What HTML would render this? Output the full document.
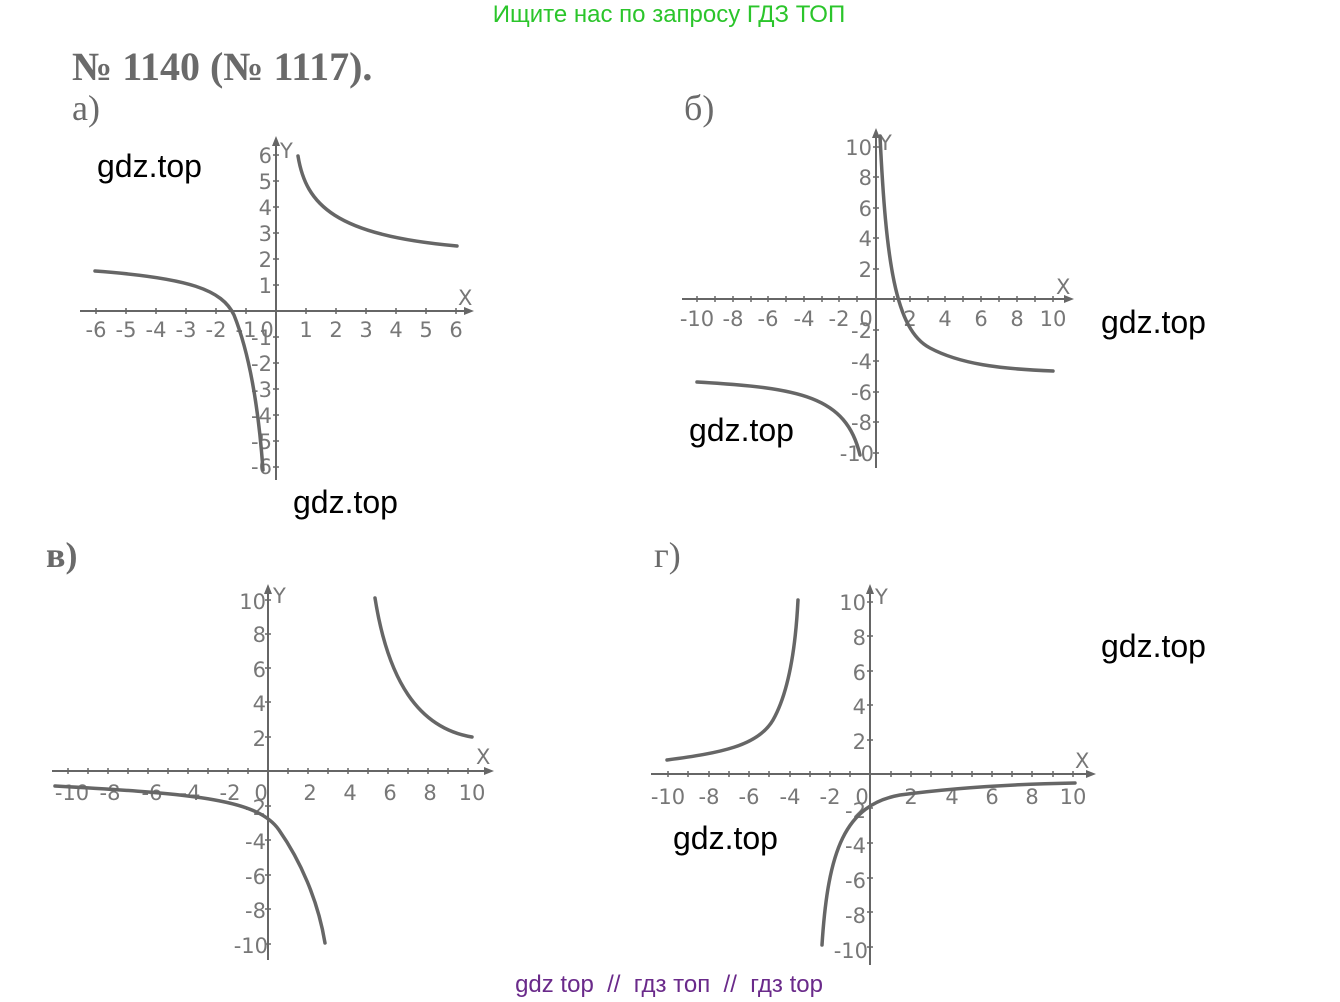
<!DOCTYPE html>
<html><head><meta charset="utf-8"><style>
html,body{margin:0;padding:0;background:#fff;}
svg{display:block;}
.ax{stroke:#666;stroke-width:2;fill:none;}
.tk{stroke:#666;stroke-width:1.5;}
.cv{stroke:#666;stroke-width:3.5;fill:none;stroke-linecap:round;}
.t{font-family:"DejaVu Sans","Liberation Sans",sans-serif;font-size:21px;fill:#777;}
.wm{font-family:"Liberation Sans",sans-serif;font-size:32px;fill:#000;}
.hd{font-family:"Liberation Serif",serif;fill:#6a6a6a;}
.ar{fill:#666;}
</style></head><body>
<svg width="1340" height="1002" viewBox="0 0 1340 1002" xmlns="http://www.w3.org/2000/svg">
<rect width="1340" height="1002" fill="#fff"/>
<text x="669" y="22" text-anchor="middle" font-family="Liberation Sans, Noto Sans CJK SC, sans-serif" font-size="24" fill="#2bc52b">Ищите нас по запросу ГДЗ ТОП</text>
<text x="72" y="80" class="hd" font-size="40" font-weight="bold">№ 1140 (№ 1117).</text>
<text x="72" y="120" class="hd" font-size="36">а)</text>
<text x="684" y="120" class="hd" font-size="36">б)</text>
<text x="46" y="567" class="hd" font-size="36" font-weight="bold">в)</text>
<text x="654" y="567" class="hd" font-size="36">г)</text>

<!-- Graph a -->
<g>
<line class="ax" x1="80" y1="311" x2="468" y2="311"/>
<line class="ax" x1="276" y1="480" x2="276" y2="142"/>
<polygon class="ar" points="474,311 464,307 464,315"/>
<polygon class="ar" points="276,136 272,146 280,146"/>
<g class="tk">
<path d="M96 308v6M126 308v6M156 308v6M186 308v6M216 308v6M246 308v6M306 308v6M336 308v6M366 308v6M396 308v6M426 308v6M456 308v6"/>
<path d="M273 155h6M273 181h6M273 207h6M273 233h6M273 259h6M273 285h6M273 337h6M273 363h6M273 389h6M273 415h6M273 441h6M273 467h6"/>
</g>
<text x="458" y="305" class="t" font-size="17">X</text>
<text x="280" y="158" class="t" font-size="14">Y</text>
<g class="t" text-anchor="middle">
<text x="96" y="337">-6</text><text x="126" y="337">-5</text><text x="156" y="337">-4</text><text x="186" y="337">-3</text><text x="216" y="337">-2</text><text x="246" y="337">-1</text><text x="267" y="337">0</text>
<text x="306" y="337">1</text><text x="336" y="337">2</text><text x="366" y="337">3</text><text x="396" y="337">4</text><text x="426" y="337">5</text><text x="456" y="337">6</text>
</g>
<g class="t" text-anchor="end">
<text x="272" y="163">6</text><text x="272" y="189">5</text><text x="272" y="215">4</text><text x="272" y="241">3</text><text x="272" y="267">2</text><text x="272" y="293">1</text>
<text x="272" y="345">-1</text><text x="272" y="371">-2</text><text x="272" y="397">-3</text><text x="272" y="423">-4</text><text x="272" y="449">-5</text><text x="272" y="474">-6</text>
</g>
<path class="cv" d="M298 156 C306 205 335 235 457 246"/>
<path class="cv" d="M95 271 C190 278 222 290 234 315 C248 350 258 400 263 470"/>
</g>

<!-- Graph b -->
<g>
<line class="ax" x1="682" y1="299" x2="1068" y2="299"/>
<line class="ax" x1="876" y1="468" x2="876" y2="132"/>
<polygon class="ar" points="1074,299 1064,295 1064,303"/>
<polygon class="ar" points="876,128 872,138 880,138"/>
<g class="tk">
<path d="M697 296v6M715 296v6M733 296v6M751 296v6M768 296v6M786 296v6M804 296v6M822 296v6M839 296v6M857 296v6M894 296v6M910 296v6M928 296v6M945 296v6M963 296v6M981 296v6M999 296v6M1017 296v6M1035 296v6M1053 296v6"/>
<path d="M873 147h6M873 177h6M873 208h6M873 238h6M873 269h6M873 330h6M873 361h6M873 392h6M873 422h6M873 453h6"/>
</g>
<text x="1056" y="294" class="t" font-size="17">X</text>
<text x="879" y="150" class="t" font-size="14">Y</text>
<g class="t" text-anchor="middle">
<text x="697" y="326">-10</text><text x="733" y="326">-8</text><text x="768" y="326">-6</text><text x="804" y="326">-4</text><text x="839" y="326">-2</text><text x="866" y="326">0</text>
<text x="910" y="326">2</text><text x="945" y="326">4</text><text x="981" y="326">6</text><text x="1017" y="326">8</text><text x="1053" y="326">10</text>
</g>
<g class="t" text-anchor="end">
<text x="872" y="155">10</text><text x="872" y="185">8</text><text x="872" y="216">6</text><text x="872" y="246">4</text><text x="872" y="277">2</text>
<text x="872" y="338">-2</text><text x="872" y="369">-4</text><text x="872" y="400">-6</text><text x="872" y="430">-8</text><text x="874" y="461">-10</text>
</g>
<path class="cv" d="M880 136 C886 260 895 330 930 348 C960 364 1000 369 1053 371"/>
<path class="cv" d="M697 382 C800 388 846 396 860 455"/>
</g>

<!-- Graph v -->
<g>
<line class="ax" x1="52" y1="771" x2="488" y2="771"/>
<line class="ax" x1="268" y1="960" x2="268" y2="588"/>
<polygon class="ar" points="494,771 484,767 484,775"/>
<polygon class="ar" points="268,584 264,594 272,594"/>
<g class="tk">
<path d="M68 768v6M88 768v6M108 768v6M128 768v6M148 768v6M168 768v6M188 768v6M208 768v6M228 768v6M248 768v6M288 768v6M308 768v6M328 768v6M348 768v6M368 768v6M388 768v6M408 768v6M428 768v6M448 768v6M468 768v6"/>
<path d="M265 600h6M265 634h6M265 668h6M265 702h6M265 737h6M265 806h6M265 840h6M265 875h6M265 909h6M265 944h6"/>
</g>
<text x="476" y="764" class="t" font-size="17">X</text>
<text x="273" y="603" class="t" font-size="14">Y</text>
<g class="t" text-anchor="middle">
<text x="72" y="800">-10</text><text x="110" y="800">-8</text><text x="152" y="800">-6</text><text x="190" y="800">-4</text><text x="230" y="800">-2</text><text x="261" y="800">0</text>
<text x="310" y="800">2</text><text x="350" y="800">4</text><text x="390" y="800">6</text><text x="430" y="800">8</text><text x="472" y="800">10</text>
</g>
<g class="t" text-anchor="end">
<text x="266" y="609">10</text><text x="266" y="642">8</text><text x="266" y="677">6</text><text x="266" y="711">4</text><text x="266" y="746">2</text>
<text x="266" y="815">-2</text><text x="266" y="849">-4</text><text x="266" y="884">-6</text><text x="266" y="918">-8</text><text x="268" y="953">-10</text>
</g>
<path class="cv" d="M375 598 C388 680 418 728 472 737"/>
<path class="cv" d="M55 786 C200 794 258 800 279 830 C300 860 318 900 325 943"/>
</g>

<!-- Graph g -->
<g>
<line class="ax" x1="651" y1="774" x2="1090" y2="774"/>
<line class="ax" x1="870" y1="965" x2="870" y2="588"/>
<polygon class="ar" points="1096,774 1086,770 1086,778"/>
<polygon class="ar" points="870,584 866,594 874,594"/>
<g class="tk">
<path d="M668 771v6M688 771v6M709 771v6M729 771v6M749 771v6M769 771v6M790 771v6M810 771v6M830 771v6M850 771v6M891 771v6M911 771v6M931 771v6M952 771v6M972 771v6M992 771v6M1012 771v6M1032 771v6M1053 771v6M1073 771v6"/>
<path d="M867 602h6M867 636h6M867 671h6M867 705h6M867 740h6M867 808h6M867 843h6M867 878h6M867 912h6M867 947h6"/>
</g>
<text x="1075" y="768" class="t" font-size="17">X</text>
<text x="875" y="604" class="t" font-size="14">Y</text>
<g class="t" text-anchor="middle">
<text x="668" y="804">-10</text><text x="709" y="804">-8</text><text x="749" y="804">-6</text><text x="790" y="804">-4</text><text x="830" y="804">-2</text><text x="862" y="804">0</text>
<text x="911" y="804">2</text><text x="952" y="804">4</text><text x="992" y="804">6</text><text x="1032" y="804">8</text><text x="1073" y="804">10</text>
</g>
<g class="t" text-anchor="end">
<text x="866" y="610">10</text><text x="866" y="645">8</text><text x="866" y="680">6</text><text x="866" y="714">4</text><text x="866" y="749">2</text>
<text x="866" y="818">-2</text><text x="866" y="853">-4</text><text x="866" y="888">-6</text><text x="866" y="923">-8</text><text x="868" y="958">-10</text>
</g>
<path class="cv" d="M667 760 C720 753 758 746 773 720 C790 690 796 640 798 600"/>
<path class="cv" d="M822 945 C828 850 845 805 900 795 C960 787 1020 784 1075 783"/>
</g>

<text x="97" y="177" class="wm">gdz.top</text>
<text x="1101" y="333" class="wm">gdz.top</text>
<text x="689" y="441" class="wm">gdz.top</text>
<text x="293" y="513" class="wm">gdz.top</text>
<text x="1101" y="657" class="wm">gdz.top</text>
<text x="673" y="849" class="wm">gdz.top</text>
<text x="669" y="992" text-anchor="middle" font-family="Liberation Sans, Noto Sans CJK SC, sans-serif" font-size="24" fill="#6a2a8a" xml:space="preserve">gdz top  //  гдз топ  //  гдз top</text>
</svg>
</body></html>
